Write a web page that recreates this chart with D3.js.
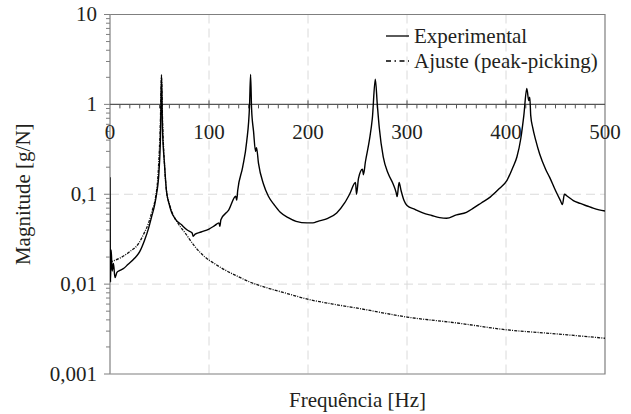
<!DOCTYPE html>
<html lang="pt">
<head>
<meta charset="UTF-8">
<title>FRF</title>
<style>
    body { margin: 0; background: #fff; }
    svg { display: block; }
</style>
</head>
<body>
<svg id="chart" width="631" height="414" font-family="'Liberation Serif', 'Times New Roman', Times, 'DejaVu Serif', serif"></svg>
<script src="https://d3js.org/d3.v7.min.js"></script>
<script>
    // frequency [Hz] / magnitude [g/N]
    const expFreq = [0, 0.5, 1.2, 2.2, 3.5, 5, 7, 10, 14, 18, 25, 30, 35, 39, 42, 45, 47, 49.5, 51, 52,
        53, 55, 57, 60, 62, 66, 72, 78, 83, 84, 86, 92, 100, 106, 110, 111, 112, 120, 127, 128, 129,
        134, 138, 141, 142, 143, 145, 147, 148, 150, 155, 160, 166, 172, 180, 188, 199, 205, 210, 220,
        229, 237, 242, 248, 249, 251, 255, 256, 258, 262, 265, 268, 270, 272, 276, 281, 286, 289, 290,
        292, 294, 297, 300, 308, 316, 325, 333, 340, 350, 360, 367, 375, 384, 393, 401, 407, 411, 415,
        418, 421, 423, 424, 425, 427, 430, 434, 440, 444, 450, 455, 457, 459, 462, 468, 475, 482, 488,
        494, 500];
    const expMag = [0.155, 0.0105, 0.024, 0.014, 0.017, 0.0118, 0.0135, 0.0142, 0.015, 0.0165, 0.0195, 0.023, 0.031, 0.042, 0.056, 0.075, 0.10, 0.18, 0.45, 2.15,
        0.55, 0.22, 0.11, 0.076, 0.064, 0.053, 0.046, 0.040, 0.037, 0.034, 0.036, 0.038, 0.041, 0.045, 0.048, 0.044, 0.052, 0.067, 0.095, 0.086, 0.11,
        0.2, 0.38, 1.0, 2.15, 0.9, 0.5, 0.3, 0.33, 0.22, 0.13, 0.095, 0.076, 0.063, 0.055, 0.050, 0.048, 0.048, 0.050, 0.054,
        0.062, 0.08, 0.10, 0.135, 0.10, 0.15, 0.19, 0.165, 0.23, 0.40, 0.7, 1.9, 1.0, 0.55, 0.26, 0.17, 0.13, 0.105, 0.094,
        0.135, 0.11, 0.085, 0.075, 0.068, 0.062, 0.058, 0.055, 0.054, 0.059, 0.063, 0.070, 0.080, 0.093, 0.115, 0.143, 0.2, 0.26, 0.42,
        0.75, 1.5, 1.1, 1.2, 0.75, 0.55, 0.4, 0.28, 0.19, 0.155, 0.11, 0.085, 0.077, 0.10, 0.095, 0.085, 0.079, 0.074, 0.070,
        0.067, 0.065];

    const fitFreq = [0, 10, 15, 20, 28.6, 34, 38.7, 43, 45.5, 48.8, 50.8, 52, 53.2, 55, 57, 60, 62, 69, 76, 86, 96,
        106, 115, 129, 140, 163, 180, 197, 225, 250, 300, 350, 401, 450, 500];
    const fitMag = [0.0176, 0.0195, 0.021, 0.023, 0.028, 0.036, 0.047, 0.068, 0.086, 0.185, 0.6, 2.0, 0.6, 0.22, 0.11, 0.078, 0.066, 0.047, 0.037, 0.026, 0.020,
        0.0168, 0.0146, 0.0122, 0.0107, 0.0088, 0.0078, 0.0069, 0.006, 0.0054, 0.0043, 0.0037, 0.0031, 0.0028, 0.0025];

    const xTicks = [0, 100, 200, 300, 400, 500];
    const yTicks = [10, 1, 0.1, 0.01, 0.001];
    const yTickLabels = ["10", "1", "0,1", "0,01", "0,001"];
    const seriesNames = ["Experimental", "Ajuste (peak-picking)"];

    const svg = d3.select("#chart");
    const pLeft = 110, pRight = 605, pTop = 14.5, pBottom = 374;
    const ink = "#231f20";

    const x = d3.scaleLinear().domain([0, 500]).range([pLeft, pRight]);
    const y = d3.scaleLog().domain([0.001, 10]).range([pBottom, pTop]);
    const grey = "#7f7f7f";

    // grid
    svg.append("g").selectAll("line").data(xTicks.slice(1, -1)).join("line")
        .attr("x1", d => x(d)).attr("x2", d => x(d)).attr("y1", pTop).attr("y2", pBottom)
        .attr("stroke", "#dadada").attr("stroke-dasharray", "9,5");
    svg.append("g").selectAll("line").data([0.1, 0.01]).join("line")
        .attr("x1", pLeft).attr("x2", pRight).attr("y1", d => y(d)).attr("y2", d => y(d))
        .attr("stroke", "#dadada").attr("stroke-dasharray", "9,5");

    // frame
    svg.append("path")
        .attr("d", `M${pLeft},${pTop}H${pRight}V${pBottom}H${pLeft}`)
        .attr("fill", "none").attr("stroke", grey).attr("stroke-width", 1.2);

    // left axis with log ticks
    const minor = [];
    [0.001, 0.01, 0.1, 1].forEach(dec => d3.range(2, 10).forEach(k => minor.push(dec * k)));
    const yAxis = svg.append("g");
    yAxis.append("line").attr("x1", pLeft).attr("x2", pLeft).attr("y1", pTop).attr("y2", pBottom)
        .attr("stroke", "#9a9a9a").attr("stroke-width", 1.5);
    yAxis.selectAll(".mn").data(minor).join("line")
        .attr("x1", pLeft - 4).attr("x2", pLeft).attr("y1", d => y(d)).attr("y2", d => y(d))
        .attr("stroke", grey);
    yAxis.selectAll(".mj").data(yTicks).join("line")
        .attr("x1", pLeft - 6).attr("x2", pLeft).attr("y1", d => y(d)).attr("y2", d => y(d))
        .attr("stroke", grey);
    yAxis.selectAll("text").data(yTicks).join("text")
        .attr("x", 97).attr("y", d => y(d)).attr("dy", "0.33em")
        .attr("text-anchor", "end").attr("font-size", 21).attr("fill", ink)
        .text((d, i) => yTickLabels[i]);

    // x axis crossing at magnitude 1
    const y1 = y(1);
    const xAxis = svg.append("g");
    xAxis.append("line").attr("x1", pLeft).attr("x2", pRight).attr("y1", y1).attr("y2", y1)
        .attr("stroke", "#555").attr("stroke-width", 1.2);
    xAxis.selectAll(".mn").data(d3.range(10, 500, 10)).join("line")
        .attr("x1", d => x(d)).attr("x2", d => x(d))
        .attr("y1", d => d % 100 === 0 ? y1 - 4 : y1).attr("y2", y1 + 4)
        .attr("stroke", "#555");
    xAxis.selectAll("text").data(xTicks).join("text")
        .attr("x", d => x(d)).attr("y", y1 + 35)
        .attr("text-anchor", "middle").attr("font-size", 21).attr("fill", ink)
        .text(d => d);

    // curves
    svg.append("clipPath").attr("id", "clip").append("rect")
        .attr("x", pLeft).attr("y", pTop).attr("width", pRight - pLeft).attr("height", pBottom - pTop);

    const line = d3.line()
        .x(d => x(d[0])).y(d => y(d[1]))
        .curve(d3.curveMonotoneX);

    svg.append("path")
        .datum(fitFreq.map((f, i) => [f, fitMag[i]]))
        .attr("clip-path", "url(#clip)")
        .attr("d", line)
        .attr("fill", "none").attr("stroke", "#111").attr("stroke-width", 1.3)
        .attr("stroke-dasharray", "3,1.2,1,1.2");

    svg.append("path")
        .datum(expFreq.map((f, i) => [f, expMag[i]]))
        .attr("clip-path", "url(#clip)")
        .attr("d", line)
        .attr("fill", "none").attr("stroke", "#000").attr("stroke-width", 1.4);

    // legend
    const legend = svg.append("g");
    const legY = [36, 61];
    legend.selectAll("line").data(seriesNames).join("line")
        .attr("x1", 386).attr("x2", 409)
        .attr("y1", (d, i) => legY[i]).attr("y2", (d, i) => legY[i])
        .attr("stroke", "#000").attr("stroke-width", 1.3)
        .attr("stroke-dasharray", (d, i) => i === 0 ? null : "5,3.5,1.5,3.5");
    legend.selectAll("text").data(seriesNames).join("text")
        .attr("x", 414).attr("y", (d, i) => legY[i]).attr("dy", "0.33em")
        .attr("font-size", 21).attr("fill", ink)
        .text(d => d);

    // axis titles
    svg.append("text")
        .attr("x", (pLeft + pRight) / 2).attr("y", 407)
        .attr("text-anchor", "middle").attr("font-size", 21).attr("fill", ink)
        .text("Frequência [Hz]");
    svg.append("text")
        .attr("transform", `translate(30,${(pTop + pBottom) / 2}) rotate(-90)`)
        .attr("text-anchor", "middle").attr("font-size", 21).attr("fill", ink)
        .text("Magnitude [g/N]");
</script>
</body>
</html>
